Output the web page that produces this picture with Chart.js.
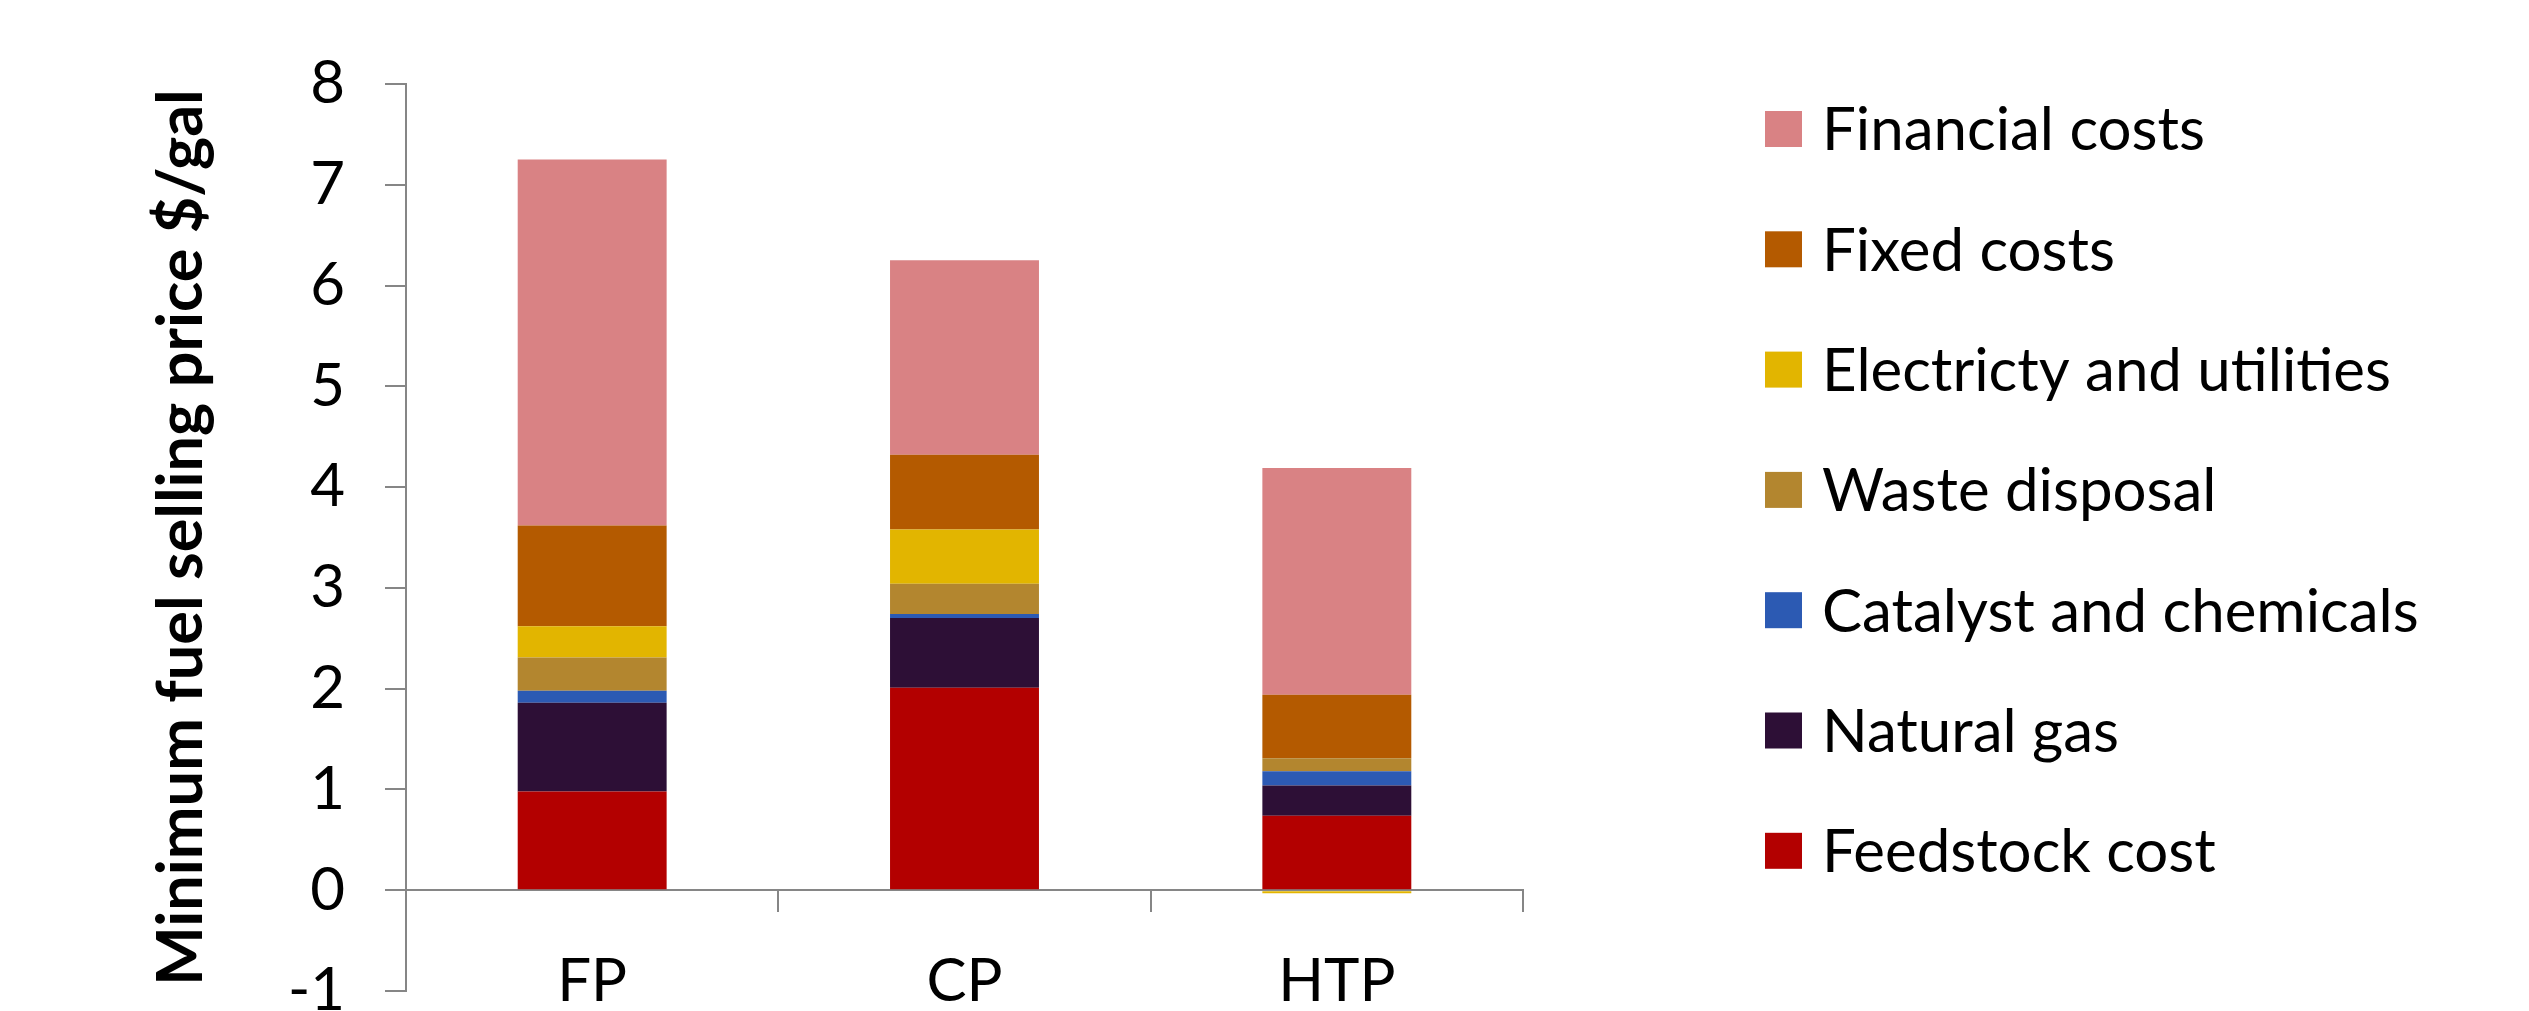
<!DOCTYPE html>
<html>
<head>
<meta charset="utf-8">
<script src="https://cdn.jsdelivr.net/npm/chart.js@4"></script>
<style>
    body { margin: 0; background: #fff; }
    #wrap { width: 2529px; height: 1011px; }
</style>
</head>
<body>
<div id="wrap"><canvas id="costChart"></canvas></div>
<script>
const categories = ['FP', 'CP', 'HTP'];
const feedstockCost = [0.98, 2.01, 0.74];
const naturalGas = [0.88, 0.69, 0.30];
const catalystChemicals = [0.12, 0.04, 0.14];
const wasteDisposal = [0.33, 0.30, 0.13];
const electricityUtilities = [0.31, 0.54, -0.03];
const fixedCosts = [1.00, 0.74, 0.63];
const financialCosts = [3.63, 1.93, 2.25];
const yTickValues = [-1, 0, 1, 2, 3, 4, 5, 6, 7, 8];

const fontName = 'Lato';
const axisGray = '#868686';

// legend drawn by hand so it can sit apart from the plot like the original
const sideLegend = {
    id: 'sideLegend',
    afterDraw(chart) {
        const ctx = chart.ctx;
        const sets = chart.data.datasets.slice().reverse();
        ctx.save();
        ctx.font = '60px ' + fontName;
        ctx.textBaseline = 'middle';
        ctx.textAlign = 'left';
        sets.forEach((ds, i) => {
            const cy = 129 + i * 120.3;
            ctx.fillStyle = ds.backgroundColor;
            ctx.fillRect(1765, cy - 18, 37, 36);
            ctx.fillStyle = '#000';
            ctx.fillText(ds.label, 1822, cy + 2);
        });
        ctx.restore();
    }
};

new Chart(document.getElementById('costChart'), {
    type: 'bar',
    data: {
        labels: categories,
        datasets: [
            { label: 'Feedstock cost', data: feedstockCost, backgroundColor: '#B30000' },
            { label: 'Natural gas', data: naturalGas, backgroundColor: '#2D0F36' },
            { label: 'Catalyst and chemicals', data: catalystChemicals, backgroundColor: '#2C5AB3' },
            { label: 'Waste disposal', data: wasteDisposal, backgroundColor: '#B3862F' },
            { label: 'Electricty and utilities', data: electricityUtilities, backgroundColor: '#E2B500' },
            { label: 'Fixed costs', data: fixedCosts, backgroundColor: '#B45A00' },
            { label: 'Financial costs', data: financialCosts, backgroundColor: '#D98284' }
        ]
    },
    options: {
        responsive: true,
        maintainAspectRatio: false,
        animation: false,
        layout: {
            padding: { top: 84, bottom: 20, left: 0, right: 1006 }
        },
        datasets: {
            bar: { barPercentage: 0.4, categoryPercentage: 1, borderWidth: 0 }
        },
        plugins: {
            legend: { display: false },
            tooltip: { enabled: false }
        },
        scales: {
            x: {
                stacked: true,
                position: { y: 0 },
                afterFit: function (scale) {
                    scale.height = 0;
                    scale.paddingLeft = 0;
                    scale.paddingRight = 0;
                },
                border: { color: axisGray, width: 2 },
                grid: {
                    drawOnChartArea: false,
                    color: axisGray,
                    lineWidth: 2,
                    tickLength: 21
                },
                ticks: {
                    color: '#000',
                    padding: 34,
                    font: { family: fontName, size: 60 }
                }
            },
            y: {
                stacked: true,
                min: -1,
                max: 8,
                afterFit: function (scale) {
                    scale.width = 406;
                    scale.paddingTop = 0;
                    scale.paddingBottom = 0;
                },
                afterBuildTicks: function (scale) {
                    scale.ticks = yTickValues.map(v => ({ value: v }));
                },
                border: { color: axisGray, width: 2 },
                grid: {
                    drawOnChartArea: false,
                    color: axisGray,
                    lineWidth: 2,
                    tickLength: 21
                },
                ticks: {
                    color: '#000',
                    padding: 40,
                    font: { family: fontName, size: 60 }
                },
                title: {
                    display: true,
                    text: 'Minimum fuel selling price $/gal',
                    color: '#000',
                    padding: { top: 144, bottom: 0 },
                    font: { family: fontName, size: 63, weight: 'bold' }
                }
            }
        }
    },
    plugins: [sideLegend]
});
</script>
</body>
</html>
